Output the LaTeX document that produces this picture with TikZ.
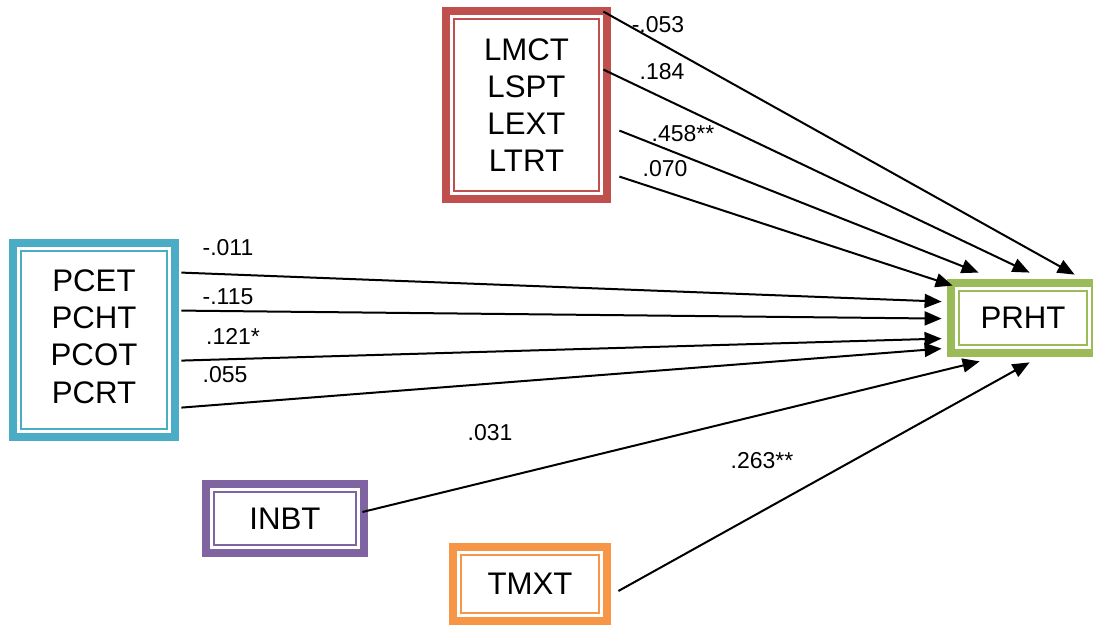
\documentclass[tikz,border=0pt]{standalone}
\usepackage{fontspec}
\setmainfont{Liberation Sans}
\usetikzlibrary{arrows.meta,calc}
\definecolor{boxred}{HTML}{C0504D}
\definecolor{boxblue}{HTML}{4BACC6}
\definecolor{boxgreen}{HTML}{9BBB59}
\definecolor{boxpurple}{HTML}{8064A2}
\definecolor{boxorange}{HTML}{F79646}
\begin{document}
\begin{tikzpicture}[x=0.5pt,y=-0.5pt,
  var/.style={rectangle, inner sep=0pt, align=center,
    font=\fontsize{15.6}{18.6}\selectfont},
  coef/.style={inner sep=0pt, font=\fontsize{11.5}{13}\selectfont},
  arr/.style={line width=1pt, -{Triangle[length=8.5pt,width=7pt]}}]
\useasboundingbox (0,0) rectangle (1093,625);
\clip (0,0) rectangle (1093,625);

% variable blocks
\node[var, minimum width=84.5pt, minimum height=98pt] (lec) at (526.5,105) {LMCT\\LSPT\\LEXT\\LTRT};
\node[var, minimum width=85pt, minimum height=101pt, text depth=3.5pt] (pc) at (94,340) {PCET\\PCHT\\PCOT\\PCRT};
\node[var, minimum width=76pt, minimum height=39pt] (prht) at (1023,318) {PRHT};
\node[var, minimum width=83pt, minimum height=38.5pt] (inbt) at (285,518.5) {INBT};
\node[var, minimum width=81pt, minimum height=41pt] (tmxt) at (530,584) {TMXT};

% thick-thin frames
\foreach \n/\c in {lec/boxred, pc/boxblue, prht/boxgreen, inbt/boxpurple, tmxt/boxorange}{
  \draw[\c, line width=4pt] ([xshift=2pt,yshift=-2pt]\n.north west) rectangle ([xshift=-2pt,yshift=2pt]\n.south east);
  \draw[\c, line width=1pt] ([xshift=6pt,yshift=-6pt]\n.north west) rectangle ([xshift=-6pt,yshift=6pt]\n.south east);
}

% paths into PRHT
\draw[arr] ($(lec.north east)+(-8,5)$) -- ($(prht.north west)+(128,-4)$);
\draw[arr] ($(lec.north east)+(-8,63)$) -- ($(prht.north west)+(83,-6)$);
\draw[arr] ($(lec.north east)+(8,124)$) -- ($(prht.north west)+(32,-6)$);
\draw[arr] ($(lec.north east)+(8,170)$) -- ($(prht.north west)+(6,7)$);

\draw[arr] ($(pc.north east)+(2,34)$) -- ($(prht.north west)+(-5,23)$);
\draw[arr] ($(pc.north east)+(2,72)$) -- ($(prht.north west)+(-5,40)$);
\draw[arr] ($(pc.north east)+(2,122)$) -- ($(prht.north west)+(-5,60)$);
\draw[arr] ($(pc.north east)+(2,169)$) -- ($(prht.north west)+(-5,70)$);

\draw[arr] ($(inbt.east)+(-6,-6.5)$) -- ($(prht.south west)+(33,4)$);
\draw[arr] ($(tmxt.east)+(7,7)$) -- ($(prht.south west)+(83,5)$);

% path coefficients
\node[coef] (c1) at (658,25) {-.053};
\node[coef] (c2) at (662,72) {.184};
\node[coef] (c3) at (683,134) {.458**};
\node[coef] (c4) at (665,169) {.070};
\node[coef] (c5) at (228,248) {-.011};
\node[coef] (c6) at (228,297) {-.115};
\node[coef] (c7) at (233,336) {.121*};
\node[coef] (c8) at (225,375) {.055};
\node[coef] (c9) at (490,433) {.031};
\node[coef] (c10) at (762,461) {.263**};
\end{tikzpicture}
\end{document}
